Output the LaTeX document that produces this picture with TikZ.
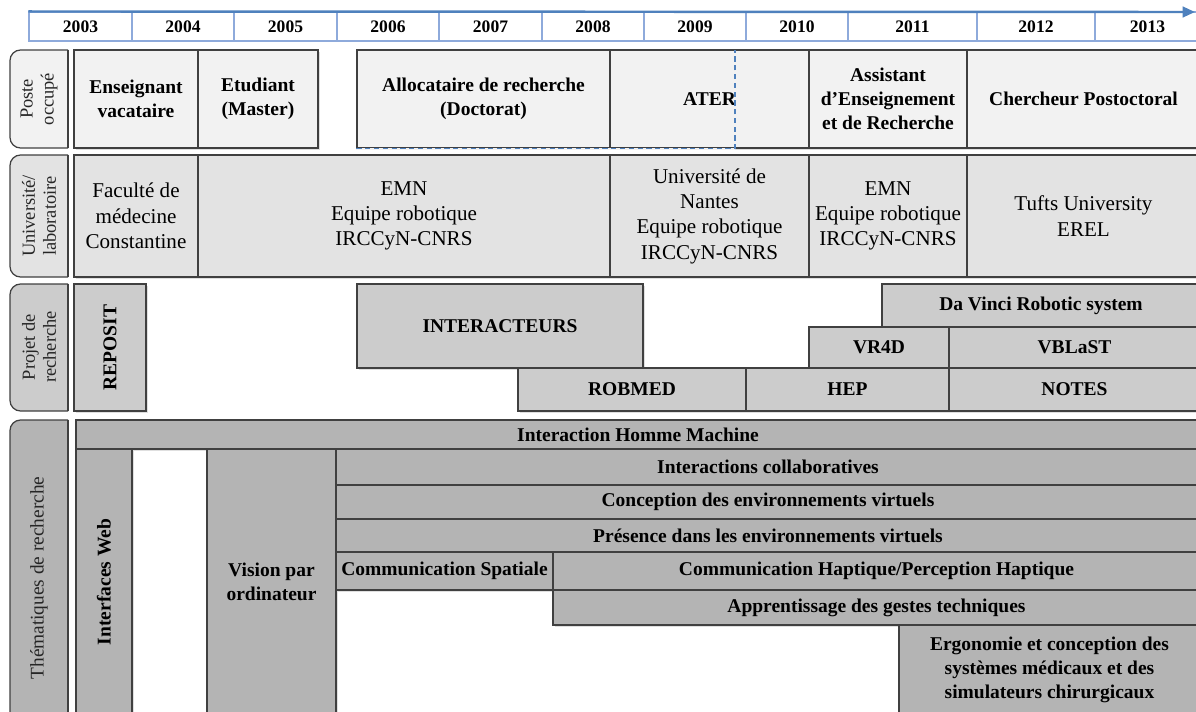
\documentclass[tikz,border=0pt]{standalone}
\usepackage{fontspec}
\setmainfont{Liberation Serif}
\usetikzlibrary{arrows.meta,shadows}

\definecolor{linegray}{HTML}{404040}
\definecolor{posteclr}{HTML}{F2F2F2}
\definecolor{univclr}{HTML}{E3E3E3}
\definecolor{projclr}{HTML}{CCCCCC}
\definecolor{themeclr}{HTML}{B4B4B4}
\definecolor{timeblue}{HTML}{4F81BD}
\definecolor{cellblue}{HTML}{8EAADB}

\newcommand{\bfont}{\fontsize{11.1}{13.8}\selectfont\bfseries}
\newcommand{\rfont}{\fontsize{12}{14.4}\selectfont}
\newcommand{\tfont}{\fontsize{10.5}{12}\selectfont}
\newcommand{\yfont}{\fontsize{10}{12}\selectfont\bfseries}

% name, style, x1, y1, x2, y2, text
\newcommand{\boxat}[7]{\node[#2, minimum width={(#5-#3)*0.02cm}, minimum height={(#6-#4)*0.02cm}] (#1) at ({(#3+#5)/2},{(#4+#6)/2}) {#7};}
\newcommand{\vboxat}[7]{\node[#2, rotate=90, minimum width={(#6-#4)*0.02cm}, minimum height={(#5-#3)*0.02cm}] (#1) at ({(#3+#5)/2},{(#4+#6)/2}) {#7};}
% y1, y2, colour
\newcommand{\tabat}[3]{\filldraw[tabshape, fill=#3] (68,#2) -- (10,#2) -- (10,#1) -- (68,#1); \draw[tabside] (68,#1) -- (68,#2);}

\tikzset{
  cell/.style={draw=linegray, line width=0.7pt, align=center, inner sep=1pt,
    drop shadow={opacity=0.25, shadow xshift=0.9pt, shadow yshift=-0.9pt}},
  poste/.style={cell, fill=posteclr, font=\bfont},
  univ/.style={cell, fill=univclr, font=\rfont},
  proj/.style={cell, fill=projclr, font=\bfont},
  theme/.style={cell, fill=themeclr, font=\bfont},
  tabshape/.style={draw=linegray, line width=0.7pt, rounded corners=6pt},
  tabside/.style={draw=linegray, line width=0.7pt},
  tablabel/.style={rotate=90, align=center, font=\tfont, text=black!85},
  year/.style={draw=cellblue, line width=0.6pt, fill=white, font=\yfont, inner sep=0pt},
  doctorat/.style={timeblue, dashed, dash pattern=on 3pt off 2pt, line width=0.8pt},
}

\begin{document}
\begin{tikzpicture}[x=0.02cm, y=-0.02cm]
\useasboundingbox (0,0) rectangle (1196,711);

\foreach \yr/\xa/\xb in {2003/29/132, 2004/132/234, 2005/234/337, 2006/337/439, 2007/439/542, 2008/542/644, 2009/644/746, 2010/746/848, 2011/848/977, 2012/977/1095, 2013/1095/1200}
  {\boxat{y\yr}{year}{\xa}{12}{\xb}{41}{\yr}}
\coordinate (tend) at (1195,12);
\draw[timeblue, line width=1.4pt, -{Triangle[length=7pt,width=6pt]}] (y2003.north west) -- (tend);

\tabat{50}{148}{posteclr}
\node[tablabel] (tposte) at (39,99) {Poste\\occupé};
\boxat{ensvac}{poste}{74}{50}{198}{148}{Enseignant\\vacataire}
\boxat{etud}{poste}{198}{50}{318}{148}{Etudiant\\(Master)}
\boxat{alloc}{poste}{357}{50}{610}{148}{Allocataire de recherche\\(Doctorat)}
\boxat{ater}{poste}{610}{50}{809}{148}{ATER}
\boxat{assist}{poste}{809}{50}{967}{148}{Assistant\\d’Enseignement\\et de Recherche}
\boxat{postdoc}{poste}{967}{50}{1200}{148}{Chercheur Postoctoral}
\coordinate (docend) at (735,50);
\draw[posteclr, line width=1pt] (alloc.south west) -- (docend |- alloc.south west);
\draw[doctorat] (alloc.south west) -- (docend |- alloc.south west) -- (docend);

\tabat{155}{277}{univclr}
\node[tablabel] (tuniv) at (39,216) {Université/\\laboratoire};
\boxat{fac}{univ}{74}{155}{198}{277}{Faculté de\\médecine\\Constantine}
\boxat{emna}{univ}{198}{155}{610}{277}{EMN\\Equipe robotique\\IRCCyN-CNRS}
\boxat{nantes}{univ}{610}{155}{809}{277}{Université de\\Nantes\\Equipe robotique\\IRCCyN-CNRS}
\boxat{emnb}{univ}{809}{155}{967}{277}{EMN\\Equipe robotique\\IRCCyN-CNRS}
\boxat{tufts}{univ}{967}{155}{1200}{277}{Tufts University\\EREL}

\tabat{284}{411}{projclr}
\node[tablabel] (tproj) at (39,347) {Projet de\\recherche};
\vboxat{reposit}{proj}{74}{284}{146}{411}{REPOSIT}
\boxat{interact}{proj}{357}{284}{643}{368}{INTERACTEURS}
\boxat{davinci}{proj}{882}{284}{1200}{327}{Da Vinci Robotic system}
\boxat{vrfd}{proj}{809}{327}{949}{368}{VR4D}
\boxat{vblast}{proj}{949}{327}{1200}{368}{VBLaST}
\boxat{robmed}{proj}{518}{368}{746}{411}{ROBMED}
\boxat{hep}{proj}{746}{368}{949}{411}{HEP}
\boxat{notes}{proj}{949}{368}{1200}{411}{NOTES}

\tabat{420}{740}{themeclr}
\node[tablabel, font=\fontsize{11}{13}\selectfont] (ttheme) at (39,578) {Thématiques de recherche};
\boxat{ihm}{theme}{76}{420}{1200}{449}{Interaction Homme Machine}
\vboxat{web}{theme}{76}{449}{132}{715}{Interfaces Web}
\boxat{vision}{theme}{207}{449}{336}{715}{Vision par\\ordinateur}
\boxat{collab}{theme}{336}{449}{1200}{485}{Interactions collaboratives}
\boxat{concep}{theme}{336}{485}{1200}{519}{Conception des environnements virtuels}
\boxat{presence}{theme}{336}{519}{1200}{552}{Présence dans les environnements virtuels}
\boxat{spatiale}{theme}{336}{552}{553}{590}{Communication Spatiale}
\boxat{haptique}{theme}{553}{552}{1200}{590}{Communication Haptique/Perception Haptique}
\boxat{gestes}{theme}{553}{590}{1200}{625}{Apprentissage des gestes techniques}
\boxat{ergo}{theme}{899}{625}{1200}{715}{Ergonomie et conception des\\systèmes médicaux et des\\simulateurs chirurgicaux}
\end{tikzpicture}
\end{document}
